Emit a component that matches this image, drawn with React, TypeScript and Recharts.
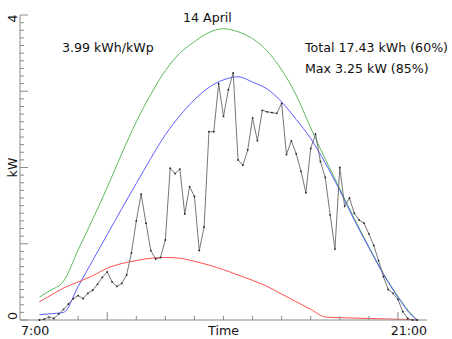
import { LineChart, Line, XAxis, YAxis } from 'recharts';

// measured power, one sample every 10 minutes from 7:40
const FIRST_SAMPLE = 7 + 40 / 60;
const SAMPLE_STEP = 1 / 6;
const measuredKw = [
  0.0, 0.01, 0.04, 0.02, 0.08, 0.14, 0.21, 0.28, 0.32, 0.28,
  0.35, 0.39, 0.47, 0.56, 0.63, 0.5, 0.44, 0.48, 0.59, 0.88,
  1.3, 1.65, 1.27, 0.91, 0.8, 0.82, 1.05, 1.99, 1.92, 1.98,
  1.39, 1.75, 1.62, 0.91, 1.22, 2.47, 2.47, 3.1, 2.67, 3.02,
  3.24, 2.1, 2.03, 2.23, 2.65, 2.35, 2.75, 2.73, 2.72, 2.71,
  2.84, 2.17, 2.35, 2.18, 1.95, 1.67, 2.25, 2.44, 2.08, 1.87,
  1.38, 0.93, 2.0, 1.49, 1.6, 1.4, 1.31, 1.27, 1.13, 0.98,
  0.78, 0.57, 0.4, 0.35, 0.27, 0.11, 0.02, 0.0, 0.0,
];

// model curves
const curveHours = [
  7.667, 8, 8.5, 9, 9.5, 10, 10.5, 11, 11.5, 12, 12.5, 13, 13.5, 14,
  14.5, 15, 15.5, 16, 16.5, 17, 17.5, 18, 18.5, 19, 19.5, 20, 20.5, 20.667,
];
const clearSkyKw = [
  0.3, 0.38, 0.51, 0.92, 1.32, 1.74, 2.18, 2.6, 2.96, 3.27, 3.5, 3.65, 3.77, 3.82,
  3.78, 3.69, 3.53, 3.28, 2.95, 2.52, 2.11, 1.72, 1.33, 0.96, 0.61, 0.31, 0.06, 0.0,
];
const expectedKw = [
  0.07, 0.08, 0.1, 0.44, 0.78, 1.12, 1.46, 1.79, 2.12, 2.43, 2.68, 2.89, 3.05, 3.15,
  3.19, 3.12, 3.03, 2.86, 2.63, 2.38, 2.06, 1.7, 1.31, 0.95, 0.6, 0.3, 0.05, 0.0,
];
const diffuseKw = [
  0.24, 0.31, 0.42, 0.5, 0.58, 0.68, 0.74, 0.78, 0.81, 0.82, 0.81, 0.77, 0.72, 0.66,
  0.59, 0.52, 0.44, 0.34, 0.24, 0.14, 0.04, 0.03, 0.025, 0.02, 0.015, 0.01, 0.005, 0.0,
];

const xTicks = [7, 8, 9, 10, 11, 12, 13, 14, 15, 16, 17, 18, 19, 20, 21];
const yTicks = Array.from({ length: 41 }, (_, k) => k / 10);

const measuredData = measuredKw.map((kw, i) => ({ h: FIRST_SAMPLE + i * SAMPLE_STEP, kw }));
const makeCurve = (vals: number[]) => curveHours.map((h, i) => ({ h, kw: vals[i] }));

const W = 452;
const H = 339;
const LEFT = 20;
const RIGHT = 427;
const TOP = 15;
const BOTTOM = 320;
const AXIS = '#8a8a8a';
const FONT = '"DejaVu Sans", sans-serif';
const FS = 12.6;

function XTick({ x, payload }: any) {
  const v = payload.value;
  const len = v === 10 || v === 20 ? 8 : 4;
  let label: any = null;
  if (v === 7)
    label = <text x={x + 1} y={335} textAnchor="start" fontSize={FS} fontFamily={FONT} fill="#111">7:00</text>;
  if (v === 14)
    label = <text x={x} y={335} textAnchor="middle" fontSize={FS} fontFamily={FONT} fill="#111">Time</text>;
  if (v === 21)
    label = <text x={x} y={335} textAnchor="end" fontSize={FS} fontFamily={FONT} fill="#111">21:00</text>;
  return (
    <g>
      {v !== 7 && v !== 21 && <line x1={x} x2={x} y1={BOTTOM} y2={BOTTOM - len} stroke={AXIS} />}
      {label}
    </g>
  );
}

function YTick({ y, payload }: any) {
  const v = payload.value;
  const major = Math.abs(v - Math.round(v)) < 1e-6;
  const len = major ? 8 : 4;
  const lbl = (text: string, cy: number) => (
    <text
      x={17}
      y={cy}
      transform={`rotate(-90 17 ${cy})`}
      textAnchor="middle"
      fontSize={FS}
      fontFamily={FONT}
      fill="#111"
    >
      {text}
    </text>
  );
  return (
    <g>
      <line x1={LEFT} x2={LEFT + len} y1={y} y2={y} stroke={AXIS} />
      {Math.abs(v - 4) < 1e-6 && lbl('4', y + 3.5)}
      {Math.abs(v) < 1e-6 && lbl('0', y - 4)}
      {Math.abs(v - 2) < 1e-6 && lbl('kW', y)}
    </g>
  );
}

export default function App() {
  return (
    <div style={{ position: 'absolute', left: 0, top: 0, width: W, height: H, background: '#fff' }}>
      <LineChart
        width={W}
        height={H}
        margin={{ top: TOP, right: W - RIGHT, left: 0, bottom: 0 }}
      >
        <XAxis
          type="number"
          dataKey="h"
          domain={[7, 21]}
          ticks={xTicks}
          interval={0}
          height={H - BOTTOM}
          axisLine={{ stroke: AXIS }}
          tickLine={false}
          tick={<XTick />}
        />
        <YAxis
          type="number"
          domain={[0, 4]}
          ticks={yTicks}
          interval={0}
          width={LEFT}
          axisLine={{ stroke: AXIS }}
          tickLine={false}
          tick={<YTick />}
        />
        <Line
          data={makeCurve(clearSkyKw)}
          dataKey="kw"
          type="monotone"
          stroke="#4cb04c"
          strokeWidth={0.9}
          dot={false}
          isAnimationActive={false}
        />
        <Line
          data={makeCurve(expectedKw)}
          dataKey="kw"
          type="monotone"
          stroke="#4a4aff"
          strokeWidth={0.9}
          dot={false}
          isAnimationActive={false}
        />
        <Line
          data={makeCurve(diffuseKw)}
          dataKey="kw"
          type="monotone"
          stroke="#ff3a3a"
          strokeWidth={0.9}
          dot={false}
          isAnimationActive={false}
        />
        <Line
          data={measuredData}
          dataKey="kw"
          type="linear"
          stroke="#666"
          strokeWidth={0.9}
          dot={{ r: 0.9, fill: '#222', stroke: 'none' }}
          isAnimationActive={false}
        />
      </LineChart>
      <svg
        width={W}
        height={H}
        style={{ position: 'absolute', left: 0, top: 0, pointerEvents: 'none' }}
        fontFamily={FONT}
        fontSize={FS}
        fill="#111"
      >
        <text x={183} y={22}>14 April</text>
        <text x={62} y={52}>3.99 kWh/kWp</text>
        <text x={305} y={52}>Total 17.43 kWh (60%)</text>
        <text x={305} y={73}>Max 3.25 kW (85%)</text>
      </svg>
    </div>
  );
}
